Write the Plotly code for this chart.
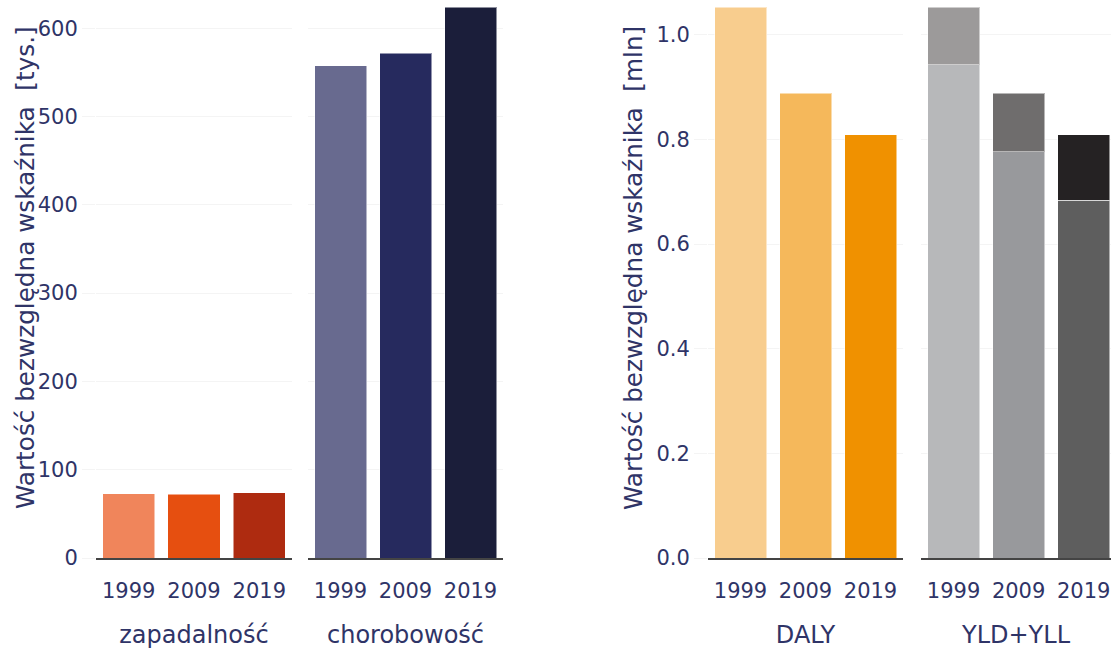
import plotly.graph_objects as go

years = ["1999", "2009", "2019"]

# left panel (thousands)
zapadalnosc = [72.9, 72.1, 74.0]
chorobowosc = [557.5, 571.5, 624.0]
# right panel (millions)
daly = [1.053, 0.888, 0.809]
yld = [0.943, 0.776, 0.684]
yll = [0.110, 0.112, 0.125]

groups = ["zapadalność", "chorobowość", "DALY", "YLD+YLL"]
left_title = "Wartość bezwzględna wskaźnika  [tys.]"
right_title = "Wartość bezwzględna wskaźnika  [mln]"

col_zap = ["#F0855B", "#E64F10", "#AE2B10"]
col_chor = ["#686A8F", "#262A5E", "#1B1E3A"]
col_daly = ["#F8CD8E", "#F5B85B", "#F09100"]
col_yld = ["#B7B8BA", "#98999C", "#5E5E5E"]
col_yll = ["#9C9A9A", "#6F6D6D", "#252223"]

TXT = "#2F3467"
GRID = "#F4F4F4"
FONT = "DejaVu Sans"
FS = 21
FT = 24
FY = 24.7

line = dict(width=1, color="rgba(255,255,255,0.5)")

fig = go.Figure()
fig.add_trace(go.Bar(x=years, y=zapadalnosc, marker=dict(color=col_zap, line=line), xaxis="x", yaxis="y", name=groups[0]))
fig.add_trace(go.Bar(x=years, y=chorobowosc, marker=dict(color=col_chor, line=line), xaxis="x2", yaxis="y2", name=groups[1]))
fig.add_trace(go.Bar(x=years, y=daly, marker=dict(color=col_daly, line=line), xaxis="x3", yaxis="y3", name=groups[2]))
fig.add_trace(go.Bar(x=years, y=yld, marker=dict(color=col_yld, line=line), xaxis="x4", yaxis="y4", name="YLD"))
fig.add_trace(go.Bar(x=years, y=yll, marker=dict(color=col_yll, line=line), xaxis="x4", yaxis="y4", name="YLL"))

W, H = 1111, 651
ML, MR, MT, MB = 96, 0, 7, 93
PW = W - ML - MR
PH = H - MT - MB


def dom(a, b):
    return [(a - ML) / PW, min(1.0, (b - ML) / PW)]


xdoms = [dom(96, 292), dom(308, 503), dom(708, 903), dom(921, 1111)]
xranges = [[-0.5, 2.5], [-0.5, 2.5], [-0.5, 2.5], [-0.5, 2.42]]

common_x = dict(type="category", showline=True, linecolor="#444444", linewidth=2,
                ticks="outside", ticklen=13, tickcolor="rgba(0,0,0,0)",
                tickfont=dict(size=FS, color=TXT, family=FONT), showgrid=False,
                fixedrange=True)
common_y = dict(showgrid=True, gridcolor=GRID, gridwidth=1, zeroline=False,
                tickfont=dict(size=FS, color=TXT, family=FONT), showline=False)

layout = dict(
    width=W, height=H,
    margin=dict(l=ML, r=MR, t=MT, b=MB),
    barmode="stack", bargap=0.2,
    showlegend=False,
    plot_bgcolor="white", paper_bgcolor="white",
    font=dict(family=FONT, size=FS, color=TXT),
)
for i in range(4):
    k = "" if i == 0 else str(i + 1)
    ax = dict(common_x)
    ax.update(domain=xdoms[i], range=xranges[i], anchor="y" + k,
              title=dict(text=groups[i], font=dict(size=FT, color=TXT, family=FONT), standoff=24))
    layout["xaxis" + k] = ax

layout["yaxis"] = dict(common_y, range=[0, max(chorobowosc)], anchor="x", dtick=100,
                       ticks="outside", ticklen=13, tickcolor=GRID)
layout["yaxis2"] = dict(common_y, matches="y", anchor="x2", showticklabels=False, ticks="")
layout["yaxis3"] = dict(common_y, range=[0, max(daly)], anchor="x3", dtick=0.2, tickformat=".1f",
                        ticks="outside", ticklen=13, tickcolor=GRID)
layout["yaxis4"] = dict(common_y, matches="y3", anchor="x4", showticklabels=False, ticks="")


def px_to_paper(px, py):
    return (px - ML) / PW, (H - MB - py) / PH


ax_l = px_to_paper(25, 268)
ax_r = px_to_paper(633, 268)
layout["annotations"] = [
    dict(text=left_title, x=ax_l[0], y=ax_l[1], xref="paper", yref="paper", textangle=-90,
         showarrow=False, xanchor="center", yanchor="middle", font=dict(size=FY, color=TXT, family=FONT)),
    dict(text=right_title, x=ax_r[0], y=ax_r[1], xref="paper", yref="paper", textangle=-90,
         showarrow=False, xanchor="center", yanchor="middle", font=dict(size=FY, color=TXT, family=FONT)),
]

fig.update_layout(**layout)
fig.write_html("out.html", config={"displayModeBar": False},
               post_script="document.body.style.margin='0';")
